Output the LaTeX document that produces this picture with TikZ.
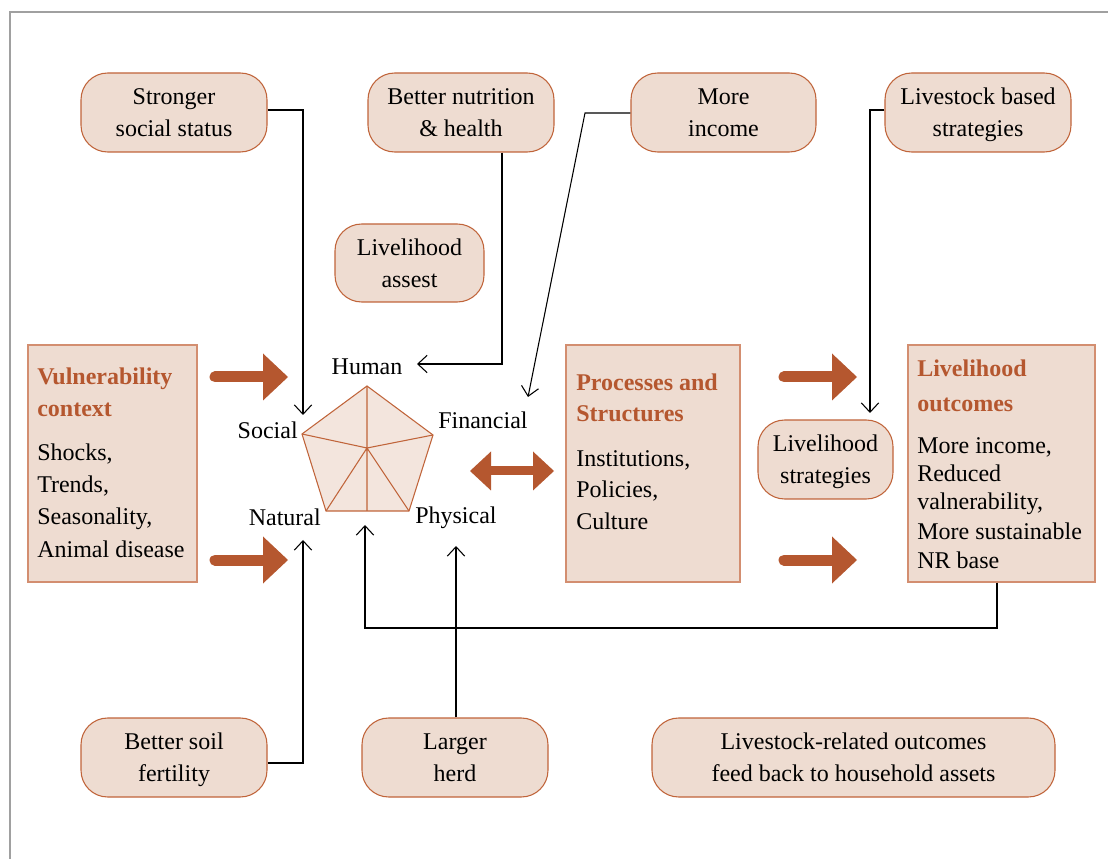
\documentclass[tikz,border=0pt]{standalone}
\usepackage{fontspec}
\setmainfont{Liberation Serif}
\usetikzlibrary{arrows.meta}
\definecolor{boxfill}{HTML}{EEDCD1}
\definecolor{boxline}{HTML}{C0643A}
\definecolor{rectline}{HTML}{D38E70}
\definecolor{accent}{HTML}{B5572F}
\definecolor{pentfill}{HTML}{F3E5DD}
\definecolor{framegray}{HTML}{A0A0A0}
\newcommand{\nodepth}[1]{\raisebox{0pt}[\height][0pt]{#1}}
\begin{document}
\begin{tikzpicture}[x=0.75pt,y=-0.75pt,
  every node/.style={font=\rmfamily\fontsize{18}{24}\selectfont},
  rbox/.style={draw=boxline, fill=boxfill, rounded corners=20pt, line width=0.8pt,
    align=center, inner sep=0pt, minimum height=59.25pt},
  sbox/.style={draw=rectline, fill=boxfill, line width=1pt, inner sep=0pt, minimum height=177.75pt},
  ttl/.style={anchor=base west, inner sep=0pt, text=accent, font=\rmfamily\fontsize{18}{24}\selectfont\bfseries},
  txt/.style={anchor=base west, inner sep=0pt},
  lbl/.style={inner sep=0pt},
  conn/.style={draw=black, line width=0.8pt, -{Straight Barb[length=7pt,width=13pt]}},
  fat/.style={draw=accent, line cap=round},
  fathead/.style={fill=accent},
]
\useasboundingbox (0,0) rectangle (1108,859);
% frame
\draw[framegray, line width=1.1pt] (10,859) -- (10,12) -- (1108,12);

% rounded boxes
\node[rbox, minimum width=139.5pt] (social) at (174,112.5) {Stronger\\social status};
\node[rbox, minimum width=139.5pt] (nutri) at (461,112.5) {Better nutrition\\\& health};
\node[rbox, minimum width=138.75pt] (income) at (723.5,112.5) {More\\income};
\node[rbox, minimum width=139.5pt] (lsstrat) at (978,112.5) {Livestock based\\\nodepth{strategies}};
\node[rbox, minimum width=111.75pt, minimum height=58.5pt] (assets) at (409.5,263) {Livelihood\\assest};
\node[rbox, minimum width=101.25pt] (strat) at (825.5,459.5) {Livelihood\\\nodepth{strategies}};
\node[rbox, minimum width=139.5pt] (soil) at (174,757.5) {Better soil\\\nodepth{fertility}};
\node[rbox, minimum width=139.5pt] (herd) at (455,757.5) {Larger\\herd};
\node[rbox, minimum width=302.25pt] (feedback) at (853.5,757.5) {Livestock-related outcomes\\feed back to household assets};

% rectangles
\node[sbox, minimum width=126.75pt] (vuln) at (112.5,463.5) {};
\node[sbox, minimum width=130.5pt] (proc) at (653,463.5) {};
\node[sbox, minimum width=140.25pt] (outc) at (1001.5,463.5) {};

\node[ttl] (v1) at (37,385) {Vulnerability};
\node[ttl] (v2) at (37,417) {context};
\node[txt] (v3) at (37,461) {Shocks,};
\node[txt] (v4) at (37,493) {Trends,};
\node[txt] (v5) at (37,525) {Seasonality,};
\node[txt] (v6) at (37,557) {Animal disease};

\node[ttl] (p1) at (576,391) {Processes and};
\node[ttl] (p2) at (576,422) {Structures};
\node[txt] (p3) at (576,467) {Institutions,};
\node[txt] (p4) at (576,498) {Policies,};
\node[txt] (p5) at (576,530) {Culture};

\node[ttl] (o1) at (917,377) {Livelihood};
\node[ttl] (o2) at (917,412) {outcomes};
\node[txt] (o3) at (917,454) {More income,};
\node[txt] (o4) at (917,482) {Reduced};
\node[txt] (o5) at (917,510) {valnerability,};
\node[txt] (o6) at (917,539) {More sustainable};
\node[txt] (o7) at (917,568) {NR base};

% pentagon
\coordinate (H) at (367,386);
\coordinate (F) at (433,435);
\coordinate (P) at (409,511);
\coordinate (N) at (326,511);
\coordinate (S) at (302,434);
\coordinate (C) at (367,448);
\coordinate (B) at (367,511);
\filldraw[fill=pentfill, draw=boxline, line width=0.8pt] (H) -- (F) -- (P) -- (N) -- (S) -- cycle;
\draw[boxline, line width=0.8pt] (C) -- (H) (C) -- (F) (C) -- (P) (C) -- (N) (C) -- (S) (C) -- (B);

\node[lbl, anchor=base] (lhuman) at (367,375) {Human};
\node[lbl, anchor=base east] (lsocial) at (298,439) {Social};
\node[lbl, anchor=base west] (lfin) at (438,429) {Financial};
\node[lbl, anchor=base east] (lnat) at (321,526) {Natural};
\node[lbl, anchor=base west] (lphys) at (415,523) {Physical};

% thin connectors
\coordinate (t1) at (303,415);
\draw[conn] (social.east |- 0,110) -- (303,110) -- (t1);
\coordinate (t2) at (417,364);
\draw[conn] (nutri.south -| 502,0) -- (502,364) -- (t2);
\coordinate (t3) at (528,397);
\draw[conn] (income.west |- 0,113) -- (585,113) -- (t3);
\coordinate (t4) at (870,413);
\draw[conn] (lsstrat.west |- 0,110) -- (870,110) -- (t4);
\coordinate (t5) at (303,540);
\draw[conn] (soil.east |- 0,763) -- (303,763) -- (t5);
\coordinate (t6) at (456,546);
\draw[conn] (herd.north -| 456,0) -- (t6);
\coordinate (t7) at (365,525);
\draw[conn] (outc.south -| 997,0) -- (997,628) -- (365,628) -- (t7);

% thick arrows
\foreach \xa/\xb/\xt/\yy in {215/265/288/377, 215/265/288/560, 784/834/857/377, 784/834/857/560}{
  \draw[fat, line width=8.25pt] (\xa,\yy) -- (\xb,\yy);
  \fill[fathead] (\xb-2,\yy-23.5) -- (\xt,\yy) -- (\xb-2,\yy+23.5) -- cycle;
}
\draw[accent, line width=6.75pt] (489,471) -- (535,471);
\fill[fathead] (491,451.5) -- (470,471) -- (491,490.5) -- cycle;
\fill[fathead] (533,451.5) -- (554,471) -- (533,490.5) -- cycle;
\end{tikzpicture}
\end{document}
